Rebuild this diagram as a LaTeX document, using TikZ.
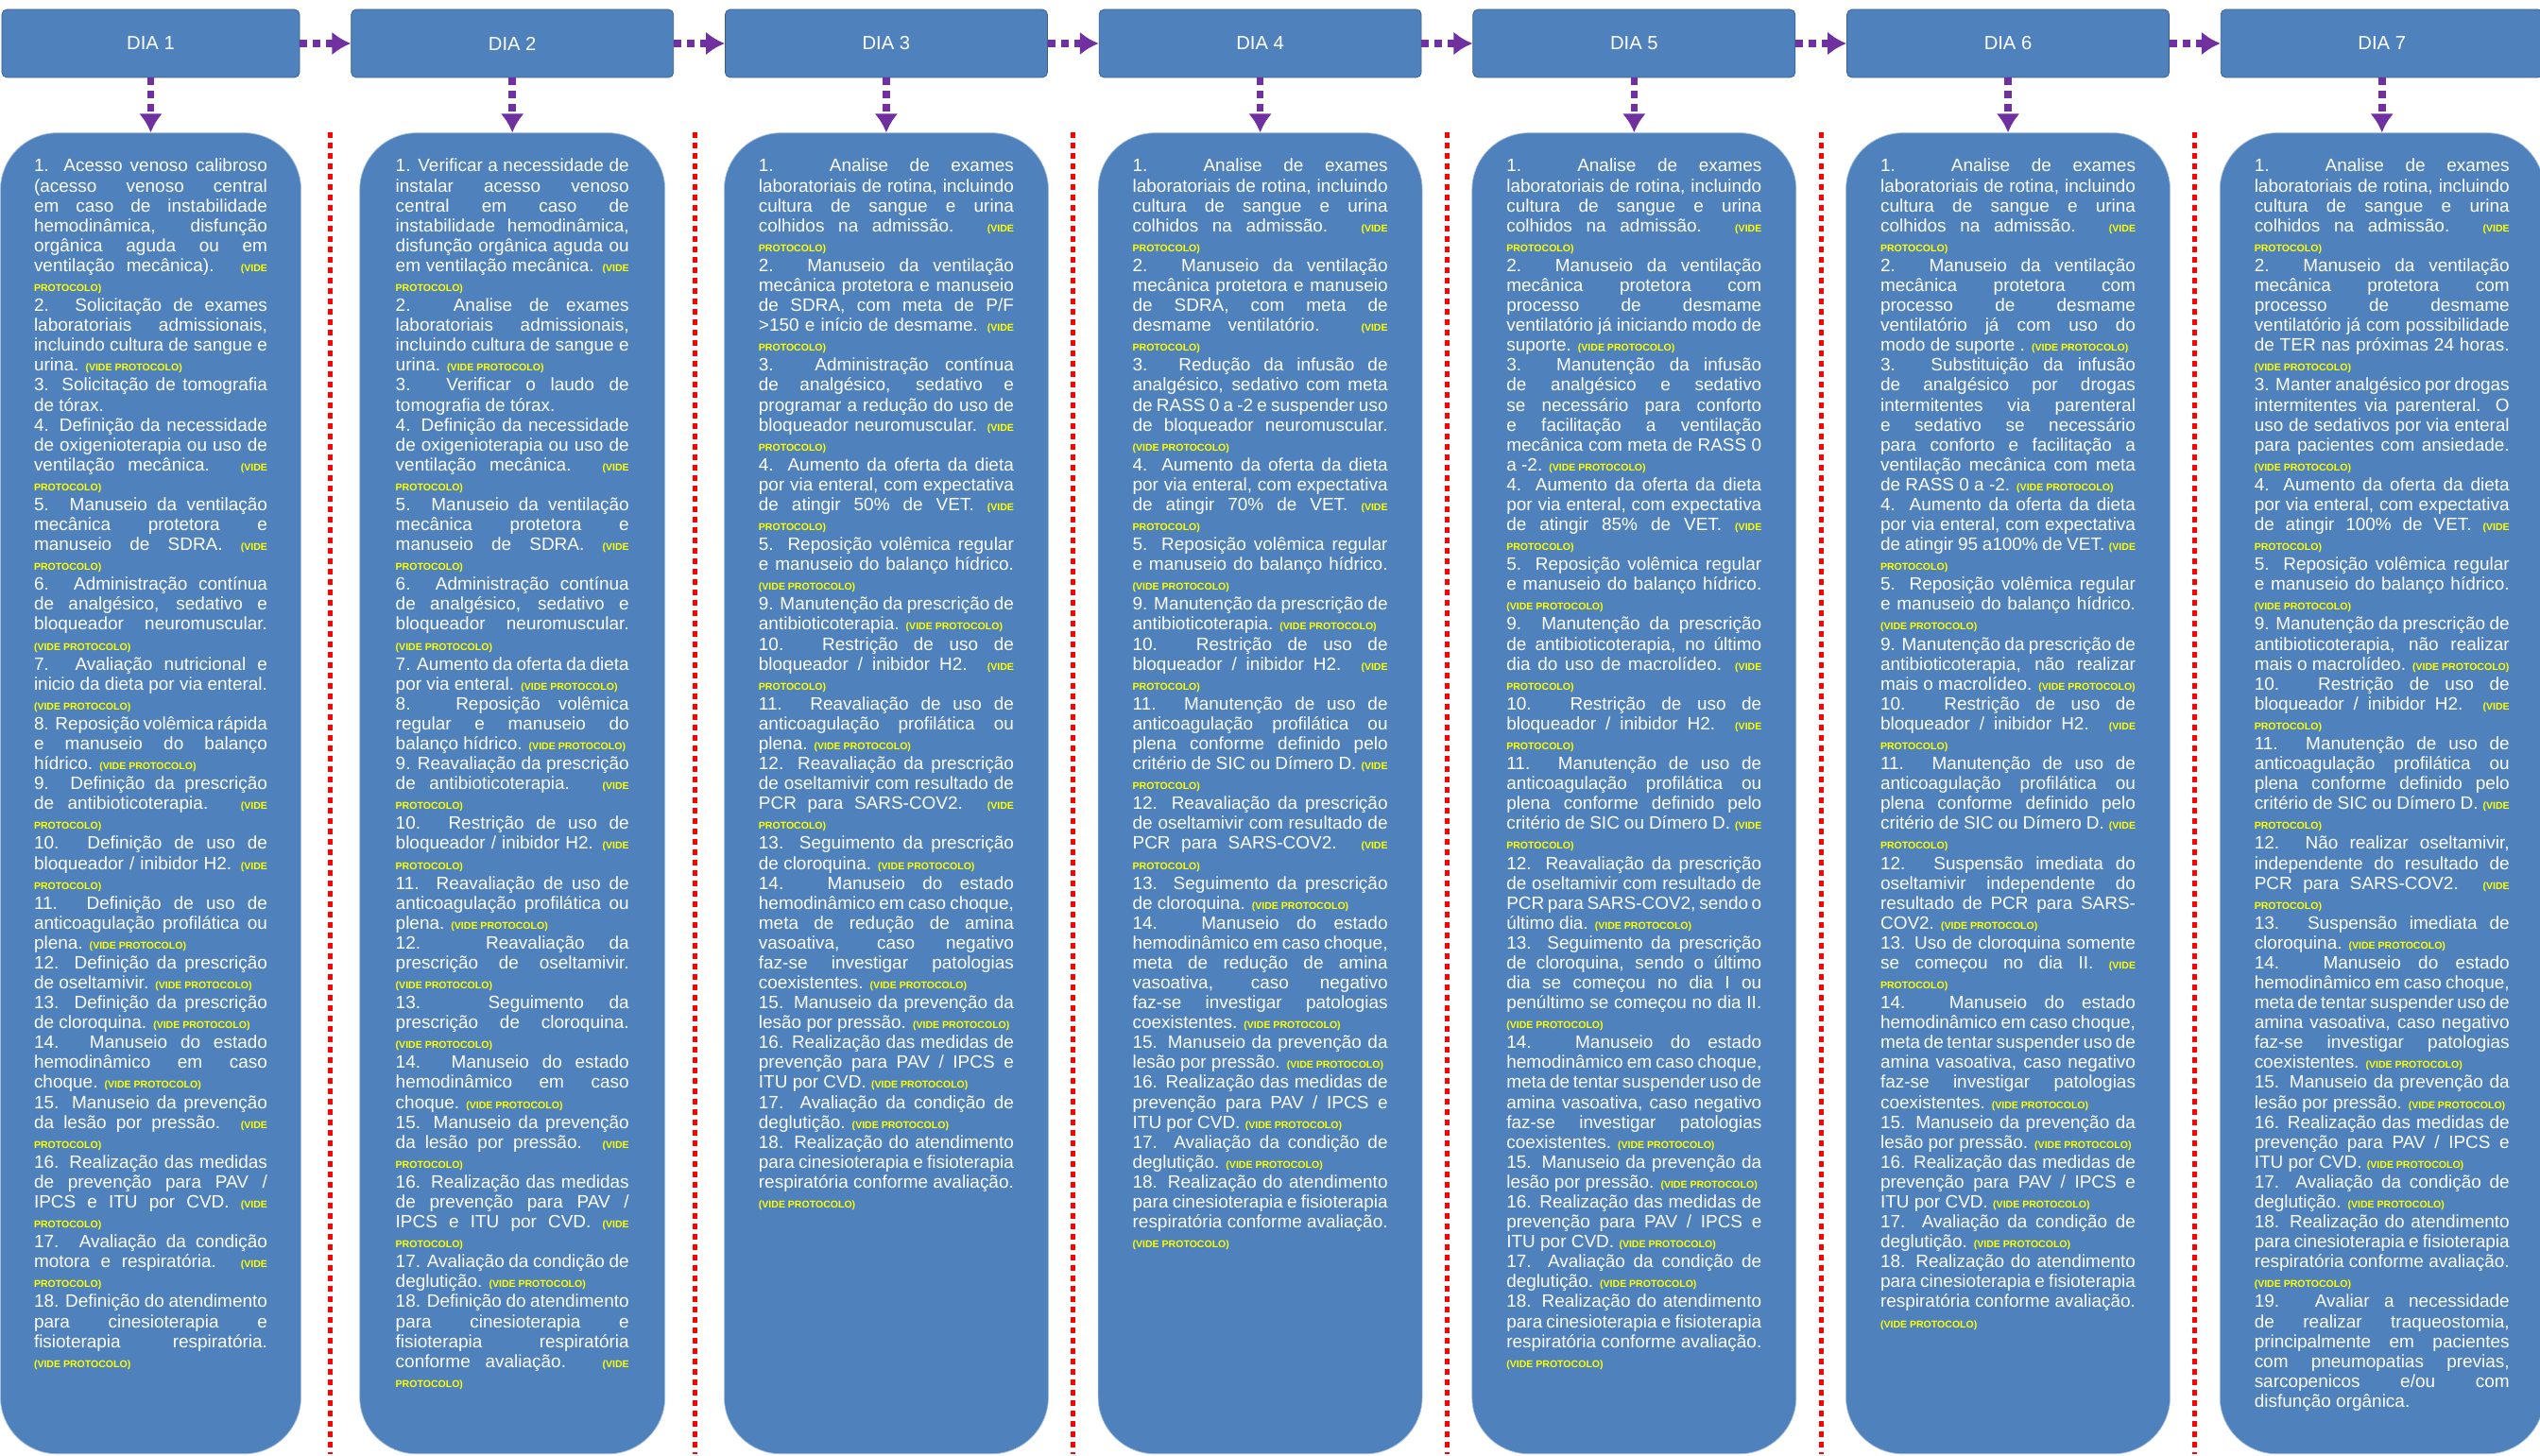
\documentclass[tikz,border=0pt]{standalone}
\usepackage{fontspec}
\setmainfont{Liberation Sans}
\usetikzlibrary{arrows.meta,positioning,calc}
\definecolor{diablue}{HTML}{4F81BD}
\definecolor{diaedge}{HTML}{385D8A}
\definecolor{bodyedge}{HTML}{A7C0DE}
\definecolor{setaroxa}{HTML}{7030A0}
\definecolor{vpyellow}{HTML}{FFFF00}
\newcommand{\vp}{{\fontsize{6pt}{7pt}\selectfont\bfseries\color{vpyellow}(VIDE PROTOCOLO)}}
\newcommand{\colfont}{\fontsize{10.8pt}{12pt}\selectfont\hyphenpenalty=10000 \tolerance=9999 \relax}

\begin{document}
\begin{tikzpicture}[
    dia/.style={draw=diaedge,fill=diablue,rounded corners=3pt,minimum height=1.44cm,text=white,font=\fontsize{11.5pt}{13pt}\selectfont},
    coluna/.style={draw=bodyedge,fill=diablue,rounded corners=1.2cm,minimum height=27.96cm},
    texto/.style={text=white,align=justify,inner sep=0pt,font=\colfont},
    seta/.style={-{Latex[length=0.4cm,width=0.5cm]},draw=setaroxa,line width=0.15cm,dash pattern=on 0.16cm off 0.12cm},
    divisa/.style={draw=red,line width=0.1cm,dash pattern=on 0.12cm off 0.1cm}]
    \useasboundingbox (0,0) rectangle (53.76,-30.8);

    % cabecalhos
    \node[dia,minimum width=6.3cm] (hdr1) at (3.19,-0.92) {DIA 1};
    \node[dia,minimum width=6.82cm,right=1.08cm of hdr1] (hdr2) {DIA 2};
    \node[dia,minimum width=6.82cm,right=1.08cm of hdr2] (hdr3) {DIA 3};
    \node[dia,minimum width=6.82cm,right=1.08cm of hdr3] (hdr4) {DIA 4};
    \node[dia,minimum width=6.82cm,right=1.08cm of hdr4] (hdr5) {DIA 5};
    \node[dia,minimum width=6.82cm,right=1.08cm of hdr5] (hdr6) {DIA 6};
    \node[dia,minimum width=6.82cm,right=1.08cm of hdr6] (hdr7) {DIA 7};

    % colunas
    \node[coluna,minimum width=6.36cm,below=1.16cm of hdr1] (body1) {};
    \node[coluna,minimum width=6.46cm,below=1.16cm of hdr2] (body2) {};
    \node[coluna,minimum width=6.86cm,below=1.16cm of hdr3] (body3) {};
    \node[coluna,minimum width=6.86cm,below=1.16cm of hdr4] (body4) {};
    \node[coluna,minimum width=6.86cm,below=1.16cm of hdr5] (body5) {};
    \node[coluna,minimum width=6.86cm,below=1.16cm of hdr6] (body6) {};
    \node[coluna,minimum width=6.86cm,below=1.16cm of hdr7] (body7) {};

    \draw[seta] (hdr1) -- (hdr2);
    \draw[seta] (hdr2) -- (hdr3);
    \draw[seta] (hdr3) -- (hdr4);
    \draw[seta] (hdr4) -- (hdr5);
    \draw[seta] (hdr5) -- (hdr6);
    \draw[seta] (hdr6) -- (hdr7);

    \draw[seta] (hdr1) -- (body1);
    \draw[seta] (hdr2) -- (body2);
    \draw[seta] (hdr3) -- (body3);
    \draw[seta] (hdr4) -- (body4);
    \draw[seta] (hdr5) -- (body5);
    \draw[seta] (hdr6) -- (body6);
    \draw[seta] (hdr7) -- (body7);

    \draw[divisa] ($(body1.north east)!0.5!(body2.north west)$) -- ($(body1.south east)!0.5!(body2.south west)$);
    \draw[divisa] ($(body2.north east)!0.5!(body3.north west)$) -- ($(body2.south east)!0.5!(body3.south west)$);
    \draw[divisa] ($(body3.north east)!0.5!(body4.north west)$) -- ($(body3.south east)!0.5!(body4.south west)$);
    \draw[divisa] ($(body4.north east)!0.5!(body5.north west)$) -- ($(body4.south east)!0.5!(body5.south west)$);
    \draw[divisa] ($(body5.north east)!0.5!(body6.north west)$) -- ($(body5.south east)!0.5!(body6.south west)$);
    \draw[divisa] ($(body6.north east)!0.5!(body7.north west)$) -- ($(body6.south east)!0.5!(body7.south west)$);

    % textos
    \node[texto,text width=4.94cm,below=0.55cm of body1.north] (txt1) {%
    1. Acesso venoso calibroso (acesso venoso central em caso de instabilidade hemodinâmica, disfunção orgânica aguda ou em ventilação mecânica). \vp\par
    2. Solicitação de exames laboratoriais admissionais, incluindo cultura de sangue e urina. \vp\par
    3. Solicitação de tomografia de tórax.\par
    4. Definição da necessidade de oxigenioterapia ou uso de ventilação mecânica. \vp\par
    5. Manuseio da ventilação mecânica protetora e manuseio de SDRA. \vp\par
    6. Administração contínua de analgésico, sedativo e bloqueador neuromuscular. \vp\par
    7. Avaliação nutricional e inicio da dieta por via enteral. \vp\par
    8. Reposição volêmica rápida e manuseio do balanço hídrico. \vp\par
    9. Definição da prescrição de antibioticoterapia. \vp\par
    10. Definição de uso de bloqueador / inibidor H2. \vp\par
    11. Definição de uso de anticoagulação profilática ou plena. \vp\par
    12. Definição da prescrição de oseltamivir. \vp\par
    13. Definição da prescrição de cloroquina. \vp\par
    14. Manuseio do estado hemodinâmico em caso choque. \vp\par
    15. Manuseio da prevenção da lesão por pressão. \vp\par
    16. Realização das medidas de prevenção para PAV / IPCS e ITU por CVD. \vp\par
    17. Avaliação da condição motora e respiratória. \vp\par
    18. Definição do atendimento para cinesioterapia e fisioterapia respiratória. \vp};

    \node[texto,text width=4.94cm,below=0.55cm of body2.north] (txt2) {%
    1. Verificar a necessidade de instalar acesso venoso central em caso de instabilidade hemodinâmica, disfunção orgânica aguda ou em ventilação mecânica. \vp\par
    2. Analise de exames laboratoriais admissionais, incluindo cultura de sangue e urina. \vp\par
    3. Verificar o laudo de tomografia de tórax.\par
    4. Definição da necessidade de oxigenioterapia ou uso de ventilação mecânica. \vp\par
    5. Manuseio da ventilação mecânica protetora e manuseio de SDRA. \vp\par
    6. Administração contínua de analgésico, sedativo e bloqueador neuromuscular. \vp\par
    7. Aumento da oferta da dieta por via enteral. \vp\par
    8. Reposição volêmica regular e manuseio do balanço hídrico. \vp\par
    9. Reavaliação da prescrição de antibioticoterapia. \vp\par
    10. Restrição de uso de bloqueador / inibidor H2. \vp\par
    11. Reavaliação de uso de anticoagulação profilática ou plena. \vp\par
    12. Reavaliação da prescrição de oseltamivir. \vp\par
    13. Seguimento da prescrição de cloroquina. \vp\par
    14. Manuseio do estado hemodinâmico em caso choque. \vp\par
    15. Manuseio da prevenção da lesão por pressão. \vp\par
    16. Realização das medidas de prevenção para PAV / IPCS e ITU por CVD. \vp\par
    17. Avaliação da condição de deglutição. \vp\par
    18. Definição do atendimento para cinesioterapia e fisioterapia respiratória conforme avaliação. \vp};

    \node[texto,text width=5.4cm,below=0.55cm of body3.north] (txt3) {%
    1. Analise de exames laboratoriais de rotina, incluindo cultura de sangue e urina colhidos na admissão. \vp\par
    2. Manuseio da ventilação mecânica protetora e manuseio de SDRA, com meta de P/F >150 e início de desmame. \vp\par
    3. Administração contínua de analgésico, sedativo e programar a redução do uso de bloqueador neuromuscular. \vp\par
    4. Aumento da oferta da dieta por via enteral, com expectativa de atingir 50\% de VET. \vp\par
    5. Reposição volêmica regular e manuseio do balanço hídrico. \vp\par
    9. Manutenção da prescrição de antibioticoterapia. \vp\par
    10. Restrição de uso de bloqueador / inibidor H2. \vp\par
    11. Reavaliação de uso de anticoagulação profilática ou plena. \vp\par
    12. Reavaliação da prescrição de oseltamivir com resultado de PCR para SARS-COV2. \vp\par
    13. Seguimento da prescrição de cloroquina. \vp\par
    14. Manuseio do estado hemodinâmico em caso choque, meta de redução de amina vasoativa, caso negativo faz-se investigar patologias coexistentes. \vp\par
    15. Manuseio da prevenção da lesão por pressão. \vp\par
    16. Realização das medidas de prevenção para PAV / IPCS e ITU por CVD. \vp\par
    17. Avaliação da condição de deglutição. \vp\par
    18. Realização do atendimento para cinesioterapia e fisioterapia respiratória conforme avaliação. \vp};

    \node[texto,text width=5.4cm,below=0.55cm of body4.north] (txt4) {%
    1. Analise de exames laboratoriais de rotina, incluindo cultura de sangue e urina colhidos na admissão. \vp\par
    2. Manuseio da ventilação mecânica protetora e manuseio de SDRA, com meta de desmame ventilatório. \vp\par
    3. Redução da infusão de analgésico, sedativo com meta de RASS 0 a -2 e suspender uso de bloqueador neuromuscular. \vp\par
    4. Aumento da oferta da dieta por via enteral, com expectativa de atingir 70\% de VET. \vp\par
    5. Reposição volêmica regular e manuseio do balanço hídrico. \vp\par
    9. Manutenção da prescrição de antibioticoterapia. \vp\par
    10. Restrição de uso de bloqueador / inibidor H2. \vp\par
    11. Manutenção de uso de anticoagulação profilática ou plena conforme definido pelo critério de SIC ou Dímero D. \vp\par
    12. Reavaliação da prescrição de oseltamivir com resultado de PCR para SARS-COV2. \vp\par
    13. Seguimento da prescrição de cloroquina. \vp\par
    14. Manuseio do estado hemodinâmico em caso choque, meta de redução de amina vasoativa, caso negativo faz-se investigar patologias coexistentes. \vp\par
    15. Manuseio da prevenção da lesão por pressão. \vp\par
    16. Realização das medidas de prevenção para PAV / IPCS e ITU por CVD. \vp\par
    17. Avaliação da condição de deglutição. \vp\par
    18. Realização do atendimento para cinesioterapia e fisioterapia respiratória conforme avaliação. \vp};

    \node[texto,text width=5.4cm,below=0.55cm of body5.north] (txt5) {%
    1. Analise de exames laboratoriais de rotina, incluindo cultura de sangue e urina colhidos na admissão. \vp\par
    2. Manuseio da ventilação mecânica protetora com processo de desmame ventilatório já iniciando modo de suporte. \vp\par
    3. Manutenção da infusão de analgésico e sedativo se necessário para conforto e facilitação a ventilação mecânica com meta de RASS 0 a -2. \vp\par
    4. Aumento da oferta da dieta por via enteral, com expectativa de atingir 85\% de VET. \vp\par
    5. Reposição volêmica regular e manuseio do balanço hídrico. \vp\par
    9. Manutenção da prescrição de antibioticoterapia, no último dia do uso de macrolídeo. \vp\par
    10. Restrição de uso de bloqueador / inibidor H2. \vp\par
    11. Manutenção de uso de anticoagulação profilática ou plena conforme definido pelo critério de SIC ou Dímero D. \vp\par
    12. Reavaliação da prescrição de oseltamivir com resultado de PCR para SARS-COV2, sendo o último dia. \vp\par
    13. Seguimento da prescrição de cloroquina, sendo o último dia se começou no dia I ou penúltimo se começou no dia II. \vp\par
    14. Manuseio do estado hemodinâmico em caso choque, meta de tentar suspender uso de amina vasoativa, caso negativo faz-se investigar patologias coexistentes. \vp\par
    15. Manuseio da prevenção da lesão por pressão. \vp\par
    16. Realização das medidas de prevenção para PAV / IPCS e ITU por CVD. \vp\par
    17. Avaliação da condição de deglutição. \vp\par
    18. Realização do atendimento para cinesioterapia e fisioterapia respiratória conforme avaliação. \vp};

    \node[texto,text width=5.4cm,below=0.55cm of body6.north] (txt6) {%
    1. Analise de exames laboratoriais de rotina, incluindo cultura de sangue e urina colhidos na admissão. \vp\par
    2. Manuseio da ventilação mecânica protetora com processo de desmame ventilatório já com uso do modo de suporte . \vp\par
    3. Substituição da infusão de analgésico por drogas intermitentes via parenteral e sedativo se necessário para conforto e facilitação a ventilação mecânica com meta de RASS 0 a -2. \vp\par
    4. Aumento da oferta da dieta por via enteral, com expectativa de atingir 95 a100\% de VET. \vp\par
    5. Reposição volêmica regular e manuseio do balanço hídrico. \vp\par
    9. Manutenção da prescrição de antibioticoterapia, não realizar mais o macrolídeo. \vp\par
    10. Restrição de uso de bloqueador / inibidor H2. \vp\par
    11. Manutenção de uso de anticoagulação profilática ou plena conforme definido pelo critério de SIC ou Dímero D. \vp\par
    12. Suspensão imediata do oseltamivir independente do resultado de PCR para SARS-COV2. \vp\par
    13. Uso de cloroquina somente se começou no dia II. \vp\par
    14. Manuseio do estado hemodinâmico em caso choque, meta de tentar suspender uso de amina vasoativa, caso negativo faz-se investigar patologias coexistentes. \vp\par
    15. Manuseio da prevenção da lesão por pressão. \vp\par
    16. Realização das medidas de prevenção para PAV / IPCS e ITU por CVD. \vp\par
    17. Avaliação da condição de deglutição. \vp\par
    18. Realização do atendimento para cinesioterapia e fisioterapia respiratória conforme avaliação. \vp};

    \node[texto,text width=5.4cm,below=0.55cm of body7.north] (txt7) {%
    1. Analise de exames laboratoriais de rotina, incluindo cultura de sangue e urina colhidos na admissão. \vp\par
    2. Manuseio da ventilação mecânica protetora com processo de desmame ventilatório já com possibilidade de TER nas próximas 24 horas. \vp\par
    3. Manter analgésico por drogas intermitentes via parenteral. O uso de sedativos por via enteral para pacientes com ansiedade. \vp\par
    4. Aumento da oferta da dieta por via enteral, com expectativa de atingir 100\% de VET. \vp\par
    5. Reposição volêmica regular e manuseio do balanço hídrico. \vp\par
    9. Manutenção da prescrição de antibioticoterapia, não realizar mais o macrolídeo. \vp\par
    10. Restrição de uso de bloqueador / inibidor H2. \vp\par
    11. Manutenção de uso de anticoagulação profilática ou plena conforme definido pelo critério de SIC ou Dímero D. \vp\par
    12. Não realizar oseltamivir, independente do resultado de PCR para SARS-COV2. \vp\par
    13. Suspensão imediata de cloroquina. \vp\par
    14. Manuseio do estado hemodinâmico em caso choque, meta de tentar suspender uso de amina vasoativa, caso negativo faz-se investigar patologias coexistentes. \vp\par
    15. Manuseio da prevenção da lesão por pressão. \vp\par
    16. Realização das medidas de prevenção para PAV / IPCS e ITU por CVD. \vp\par
    17. Avaliação da condição de deglutição. \vp\par
    18. Realização do atendimento para cinesioterapia e fisioterapia respiratória conforme avaliação. \vp\par
    19. Avaliar a necessidade de realizar traqueostomia, principalmente em pacientes com pneumopatias previas, sarcopenicos e/ou com disfunção orgânica.};
\end{tikzpicture}
\end{document}
